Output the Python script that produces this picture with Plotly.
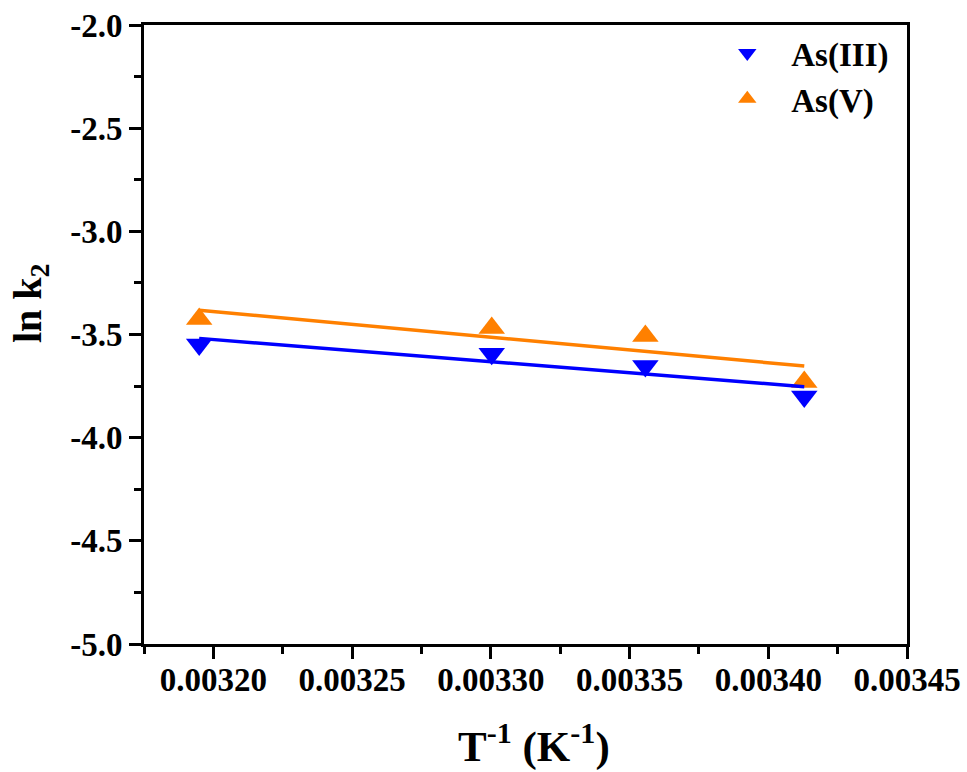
import numpy as np
import plotly.graph_objects as go

# Data
inv_T = [1/313, 1/303, 1/298, 1/293]          # T^-1 (K^-1)
ln_k2_as3 = [-3.549, -3.593, -3.653, -3.800]   # As(III)
ln_k2_as5 = [-3.425, -3.468, -3.507, -3.730]   # As(V)
series_names = ["As(III)", "As(V)"]
x_ticks = [0.00320, 0.00325, 0.00330, 0.00335, 0.00340, 0.00345]
x_tick_labels = ["0.00320", "0.00325", "0.00330", "0.00335", "0.00340", "0.00345"]
y_ticks = [-2.0, -2.5, -3.0, -3.5, -4.0, -4.5, -5.0]
y_tick_labels = ["-2.0", "-2.5", "-3.0", "-3.5", "-4.0", "-4.5", "-5.0"]

BLUE = "#0000FF"
ORANGE = "#FF8000"
FONT = "Liberation Serif"

fig = go.Figure()

fig.add_trace(go.Scatter(x=inv_T, y=ln_k2_as3, mode="markers", name=series_names[0],
                         marker=dict(symbol="triangle-down", size=23, color=BLUE, line=dict(width=0))))
fig.add_trace(go.Scatter(x=inv_T, y=ln_k2_as5, mode="markers", name=series_names[1],
                         marker=dict(symbol="triangle-up", size=23, color=ORANGE, line=dict(width=0))))

xa = np.array(inv_T)
for ys, col in [(ln_k2_as3, BLUE), (ln_k2_as5, ORANGE)]:
    m, b = np.polyfit(xa, np.array(ys), 1)
    xf = [xa.min(), xa.max()]
    fig.add_trace(go.Scatter(x=xf, y=[m * v + b for v in xf], mode="lines",
                             line=dict(color=col, width=3.5), showlegend=False, hoverinfo="skip"))

axis_common = dict(
    showline=True, linecolor="black", linewidth=3, mirror=True,
    ticks="outside", ticklen=12, tickwidth=2.5, tickcolor="black",
    showgrid=False, zeroline=False, automargin=False,
    tickfont=dict(family=FONT, size=33, color="black", weight="bold"),
)

fig.update_xaxes(range=[0.003175, 0.00345], tickvals=x_ticks, ticktext=x_tick_labels,
                 minor=dict(ticks="outside", ticklen=7, tickwidth=2.5, tickcolor="black", dtick=0.000025,
                            tick0=0.003175),
                 ticklabelstandoff=-8, **axis_common)
fig.update_yaxes(range=[-5.0, -2.0], tickvals=y_ticks, ticktext=y_tick_labels,
                 minor=dict(ticks="outside", ticklen=7, tickwidth=2.5, tickcolor="black", dtick=0.25,
                            tick0=-5.0),
                 ticklabelstandoff=0, **axis_common)

fig.add_annotation(text="T<sup>-1</sup> (K<sup>-1</sup>)", xref="paper", yref="paper",
                   x=0.511, y=-0.16, xanchor="center", yanchor="middle", showarrow=False,
                   font=dict(family=FONT, size=43, color="black", weight="bold"))
fig.add_annotation(text="ln k<sub>2</sub>", xref="paper", yref="paper",
                   x=-0.15, y=0.55, xanchor="center", yanchor="middle", textangle=-90, showarrow=False,
                   font=dict(family=FONT, size=40, color="black", weight="bold"))

fig.update_layout(
    width=967, height=772,
    margin=dict(l=144, r=60, t=25, b=128),
    plot_bgcolor="white", paper_bgcolor="white",
    showlegend=True,
    legend=dict(x=0.733, y=1.0, xanchor="left", yanchor="top", bgcolor="rgba(0,0,0,0)",
                font=dict(family=FONT, size=33, color="black", weight="bold"),
                itemwidth=78, tracegroupgap=0),
)

fig.write_html("out.html")
